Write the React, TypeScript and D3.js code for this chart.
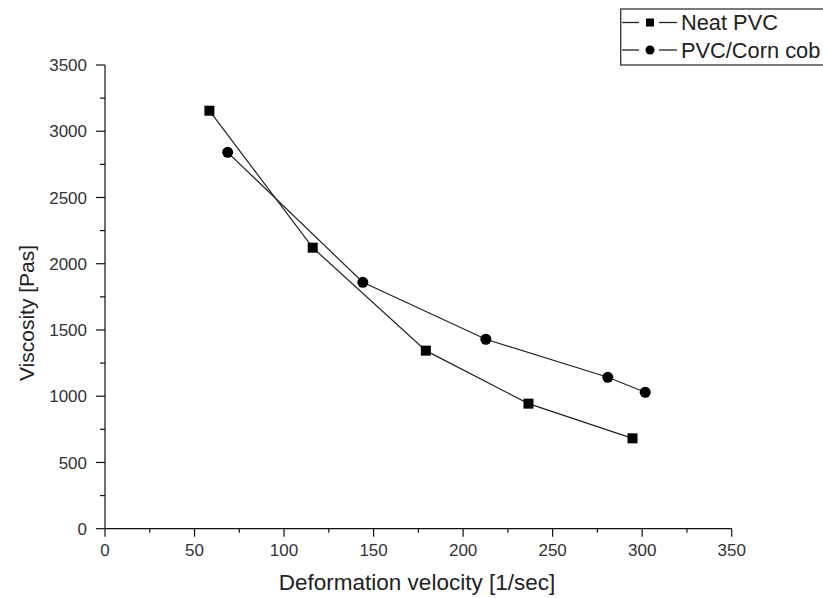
import React from "react";
import * as d3 from "d3";

const neatX = [58.3, 116, 179.2, 236.5, 294.6];
const neatY = [3155, 2121, 1344, 944, 682];
const cobX = [68.5, 144, 212.7, 280.8, 301.7];
const cobY = [2841, 1860, 1430, 1143, 1030];
const xTicks = [0, 50, 100, 150, 200, 250, 300, 350];
const yTicks = [0, 500, 1000, 1500, 2000, 2500, 3000, 3500];
const seriesNames = ["Neat PVC", "PVC/Corn cob"];

const W = 823, H = 598;
const FONT = "Arial, 'Liberation Sans', sans-serif";

export default function App() {
  const x = d3.scaleLinear().domain([0, 350]).range([105, 731.7]);
  const y = d3.scaleLinear().domain([0, 3500]).range([528.7, 65]);
  const line = d3.line<[number, number]>().x(d => x(d[0])).y(d => y(d[1]));
  const neat: [number, number][] = neatX.map((v, i) => [v, neatY[i]]);
  const cob: [number, number][] = cobX.map((v, i) => [v, cobY[i]]);
  const xMinor = d3.range(25, 350, 50);
  const yMinor = d3.range(250, 3500, 500);
  const y0 = y(0), x0 = x(0);
  const legendRows = [22.5, 50];
  return (
    <svg width={W} height={H} style={{ position: "absolute", left: 0, top: 0, background: "#fff" }} fontFamily={FONT}>
      <rect x={0} y={0} width={W} height={H} fill="#fff" />
      {/* axes */}
      <line x1={x0} x2={x(350)} y1={y0} y2={y0} stroke="#111" strokeWidth={1.2} />
      <line x1={x0} x2={x0} y1={y0} y2={y(3500)} stroke="#111" strokeWidth={1.2} />
      {xTicks.map(t => (
        <g key={"xt" + t}>
          <line x1={x(t)} x2={x(t)} y1={y0} y2={y0 + 8} stroke="#111" strokeWidth={1.2} />
          <text x={x(t)} y={556} textAnchor="middle" fontSize={17} fill="#333">{t}</text>
        </g>
      ))}
      {xMinor.map(t => (
        <line key={"xm" + t} x1={x(t)} x2={x(t)} y1={y0} y2={y0 + 4} stroke="#111" strokeWidth={1.2} />
      ))}
      {yTicks.map(t => (
        <g key={"yt" + t}>
          <line x1={x0 - 9} x2={x0} y1={y(t)} y2={y(t)} stroke="#111" strokeWidth={1.2} />
          <text x={87} y={y(t)} dy="0.36em" textAnchor="end" fontSize={17} fill="#333">{t}</text>
        </g>
      ))}
      {yMinor.map(t => (
        <line key={"ym" + t} x1={x0 - 5} x2={x0} y1={y(t)} y2={y(t)} stroke="#111" strokeWidth={1.2} />
      ))}
      {/* titles */}
      <text x={417} y={590} textAnchor="middle" fontSize={22.5} fill="#222">Deformation velocity [1/sec]</text>
      <text transform={`translate(34,${313}) rotate(-90)`} textAnchor="middle" fontSize={21} fill="#222">Viscosity [Pas]</text>
      {/* series */}
      <path d={line(neat) || ""} fill="none" stroke="#222" strokeWidth={1.2} />
      <path d={line(cob) || ""} fill="none" stroke="#222" strokeWidth={1.2} />
      {neat.map((d, i) => (
        <rect key={"n" + i} x={x(d[0]) - 5} y={y(d[1]) - 5} width={10} height={10} fill="#000" />
      ))}
      {cob.map((d, i) => (
        <circle key={"c" + i} cx={x(d[0])} cy={y(d[1])} r={5.5} fill="#000" />
      ))}
      {/* legend */}
      <rect x={620.7} y={9} width={230} height={56} fill="#fff" stroke="#222" strokeWidth={1.2} />
      {seriesNames.map((n, i) => (
        <g key={"lg" + i}>
          <line x1={622} x2={639} y1={legendRows[i]} y2={legendRows[i]} stroke="#222" strokeWidth={1.3} />
          <line x1={659} x2={677} y1={legendRows[i]} y2={legendRows[i]} stroke="#222" strokeWidth={1.3} />
          {i === 0 ? (
            <rect x={650 - 4} y={legendRows[i] - 4} width={8} height={8} fill="#000" />
          ) : (
            <circle cx={650} cy={legendRows[i]} r={4.5} fill="#000" />
          )}
          <text x={681} y={legendRows[i]} dy="0.36em" fontSize={21.8} fill="#222">{n}</text>
        </g>
      ))}
    </svg>
  );
}
